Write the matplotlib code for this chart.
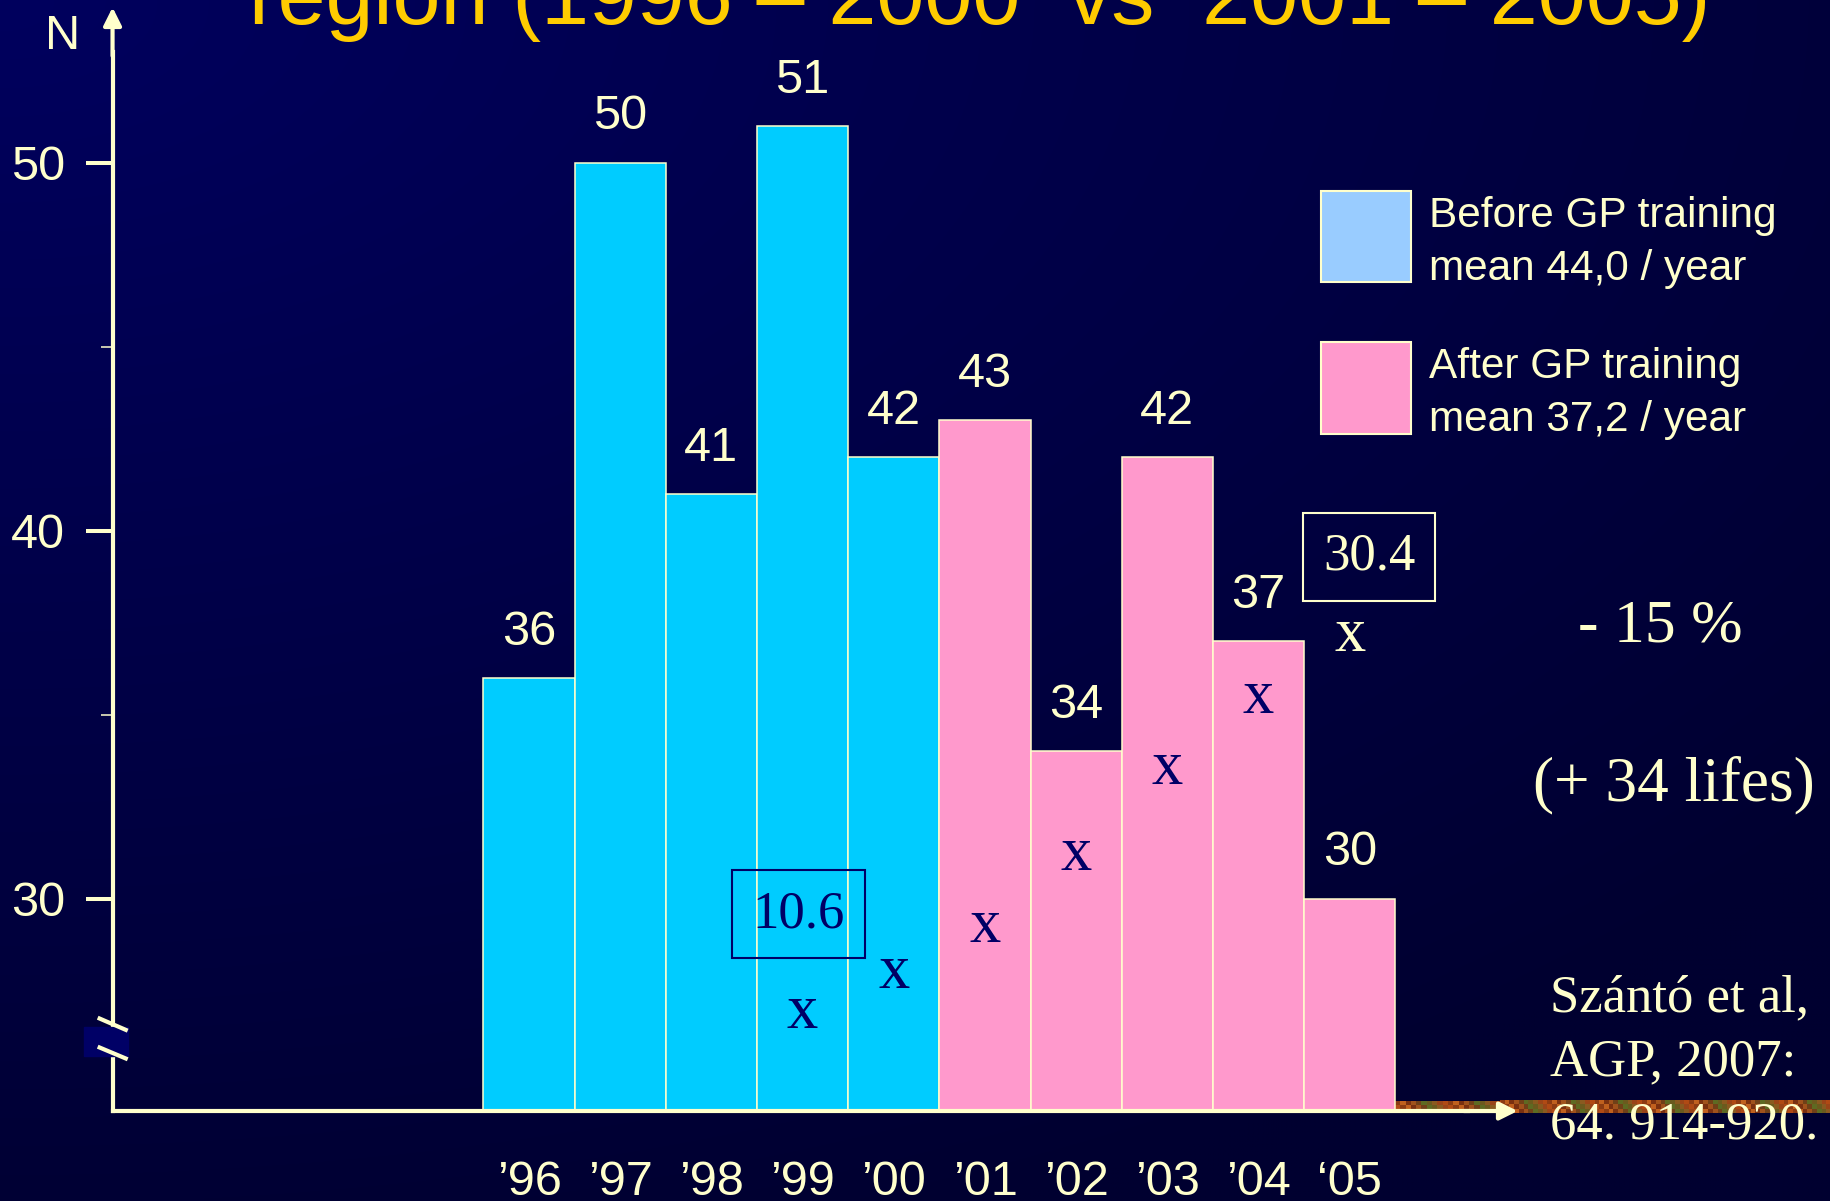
import matplotlib.pyplot as plt
import numpy as np
from matplotlib.patches import Rectangle
from matplotlib.lines import Line2D
from matplotlib.colors import to_rgb

plt.rcParams['font.family'] = ['Liberation Sans', 'DejaVu Sans']

# yearly counts, first five years before GP training, last five after
years = ["’96", "’97", "’98", "’99", "’00", "’01", "’02", "’03", "’04", "‘05"]
deaths = [36, 50, 41, 51, 42, 43, 34, 42, 37, 30]
n_before = 5

# the "x" series ('99 .. '05), on its own scale
pct_pos = [3, 4, 5, 6, 7, 8, 9]
pct_vals = [10.6, 12.7, 15.1, 18.9, 23.4, 27.1, 30.4]

legend_lines = [["Before GP training", "mean 44,0 / year"],
                ["After GP training", "mean 37,2 / year"]]
title = "region (1996 – 2000  vs  2001 – 2005)"
note_top = "- 15 %"
note_mid = "(+ 34 lifes)"
ref_lines = ["Szántó et al,", "AGP, 2007:", "64. 914-920."]

cream = '#FFFFCC'
navy = '#000066'
cyan = '#00CCFF'
pink = '#FF99CC'
serif = ['Liberation Serif', 'DejaVu Serif']
label_size = 35

W, H = 1831, 1201
fig = plt.figure(figsize=(W / 100, H / 100), dpi=100)


def fx(x):
    return x / W


def fy(y):
    return 1 - y / H


# dark blue slide background, brighter towards the top-left corner
bg = fig.add_axes([0, 0, 1, 1])
yy, xx = np.mgrid[0:1:240j, 0:1:366j]
r = np.sqrt((xx / 1.3) ** 2 + (yy / 1.1) ** 2)
img = np.zeros(yy.shape + (3,))
img[..., 2] = (0x30 + 0x2e * np.clip(1 - r, 0, 1)) / 255
bg.imshow(img, extent=[0, 1, 0, 1], aspect='auto', origin='upper', interpolation='bilinear')

# speckled strip along the bottom right
strip_cols = ['#8c3b12', '#a0521c', '#6b5a1e', '#b04a14', '#7a3010',
              '#5e6a22', '#9a4418', '#c0601e', '#704018', '#8a5a20']
rgb = np.array([to_rgb(c) for c in strip_cols])
idx = np.array([(np.arange(70) * 7 + k * 3) % len(strip_cols) for k in range(3)])
bg.imshow(rgb[idx], extent=[fx(1500), 1, fy(1113), fy(1100)], aspect='auto', interpolation='nearest')
bg.imshow(rgb[idx[:2, :20]], extent=[fx(1395), fx(1500), fy(1109), fy(1102)], aspect='auto', interpolation='nearest')
bg.set_xlim(0, 1)
bg.set_ylim(0, 1)
bg.axis('off')

# main chart
base = 24.23
x0 = -4.566
ax = fig.add_axes([0, 0, 1, 1])
ax.set_facecolor('none')
ax.set_xlim(-5.80, 14.276)
ax.set_ylim(21.785, 54.42)

x = np.arange(len(years))
colors = [cyan] * n_before + [pink] * (len(years) - n_before)
ax.bar(x, np.array(deaths) - base, bottom=base, width=1, color=colors,
       edgecolor=cream, linewidth=1.1, zorder=2)
for xi, v in zip(x, deaths):
    ax.annotate(str(v), (xi, v), xytext=(0, 24), textcoords='offset points',
                ha='center', va='baseline', fontsize=label_size, color=cream)

for side in ['top', 'right']:
    ax.spines[side].set_visible(False)
ax.spines['left'].set_position(('data', x0))
ax.spines['left'].set_bounds(base, 53.0)
ax.spines['bottom'].set_position(('data', base))
ax.spines['bottom'].set_bounds(x0, 10.3)
for side in ['left', 'bottom']:
    ax.spines[side].set_color(cream)
    ax.spines[side].set_linewidth(3)

arrow = dict(arrowstyle='-|>', color=cream, lw=3, mutation_scale=27, shrinkA=0, shrinkB=0)
ax.annotate('', xy=(x0, 54.22), xytext=(x0, 52.9), arrowprops=arrow)
ax.annotate('', xy=(10.84, base), xytext=(10.25, base), arrowprops=arrow)

ax.set_yticks([30, 40, 50])
ax.set_yticks([35, 45], minor=True)
ax.tick_params(axis='y', which='major', length=19.4, width=2.9, color=cream,
               labelcolor=cream, labelsize=label_size, pad=15)
ax.tick_params(axis='y', which='minor', length=9, width=1.1, color=cream)
ax.set_xticks(x, years)
ax.tick_params(axis='x', length=0, pad=35, labelsize=label_size, labelcolor=cream)

# "x" series on a second, hidden scale
ax2 = ax.twinx()
ax2.set_ylim(0.79, 63.8)
ax2.set_axis_off()
for xi, v in zip(pct_pos, pct_vals):
    c = navy if xi < 9 else cream
    ax2.annotate('x', (xi, v), xytext=(0, -10), textcoords='offset points',
                 ha='center', va='baseline', fontsize=45, family=serif, color=c)
ax2.annotate(f'{pct_vals[0]}', (pct_pos[0], pct_vals[0]), xytext=(-3, 72),
             textcoords='offset points', ha='center', va='center', fontsize=38,
             family=serif, color=navy,
             bbox=dict(boxstyle='square,pad=0.38', fc='none', ec=navy, lw=1.5))
ax2.annotate(f'{pct_vals[-1]}', (pct_pos[-1], pct_vals[-1]), xytext=(14, 57.6),
             textcoords='offset points', ha='center', va='center', fontsize=38,
             family=serif, color=cream,
             bbox=dict(boxstyle='square,pad=0.38', fc='none', ec=cream, lw=1.5))

# broken y axis mark
fig.add_artist(Rectangle((fx(84), fy(1055.7)), fx(127.7) - fx(84), (1055.7 - 1027.3) / H,
                         transform=fig.transFigure, color=navy, zorder=5))
for y1, y2 in [(1017.7, 1030.7), (1046.7, 1059.3)]:
    fig.add_artist(Line2D([fx(97.7), fx(127.7)], [fy(y1), fy(y2)], transform=fig.transFigure,
                          color=cream, lw=3, solid_capstyle='butt', zorder=6))

fig.text(fx(63), fy(49), 'N', ha='center', va='baseline', fontsize=label_size, color=cream)
fig.text(fx(979.5), fy(24), title, ha='center', va='baseline', fontsize=62, color='#FFCC00')

# legend boxes
for top, fc, lines in [(191, '#99CCFF', legend_lines[0]), (342.3, pink, legend_lines[1])]:
    fig.add_artist(Rectangle((fx(1320.7), fy(top + 91.3)), fx(90.3), 91.3 / H,
                             transform=fig.transFigure, fc=fc, ec=cream, lw=1.5))
    for k, line in enumerate(lines):
        fig.text(fx(1429), fy(top + 36 + k * 52.6), line, ha='left', va='baseline',
                 fontsize=30.5, color=cream)

fig.text(fx(1660), fy(641.7), note_top, ha='center', va='baseline', fontsize=44.5,
         family=serif, color=cream)
fig.text(fx(1674), fy(800.7), note_mid, ha='center', va='baseline', fontsize=45.5,
         family=serif, color=cream)
for k, line in enumerate(ref_lines):
    fig.text(fx(1550), fy(1011.7 + k * 63.2), line, ha='left', va='baseline', fontsize=38,
             family=serif, color=cream)

fig.savefig('out.png', dpi=100)
